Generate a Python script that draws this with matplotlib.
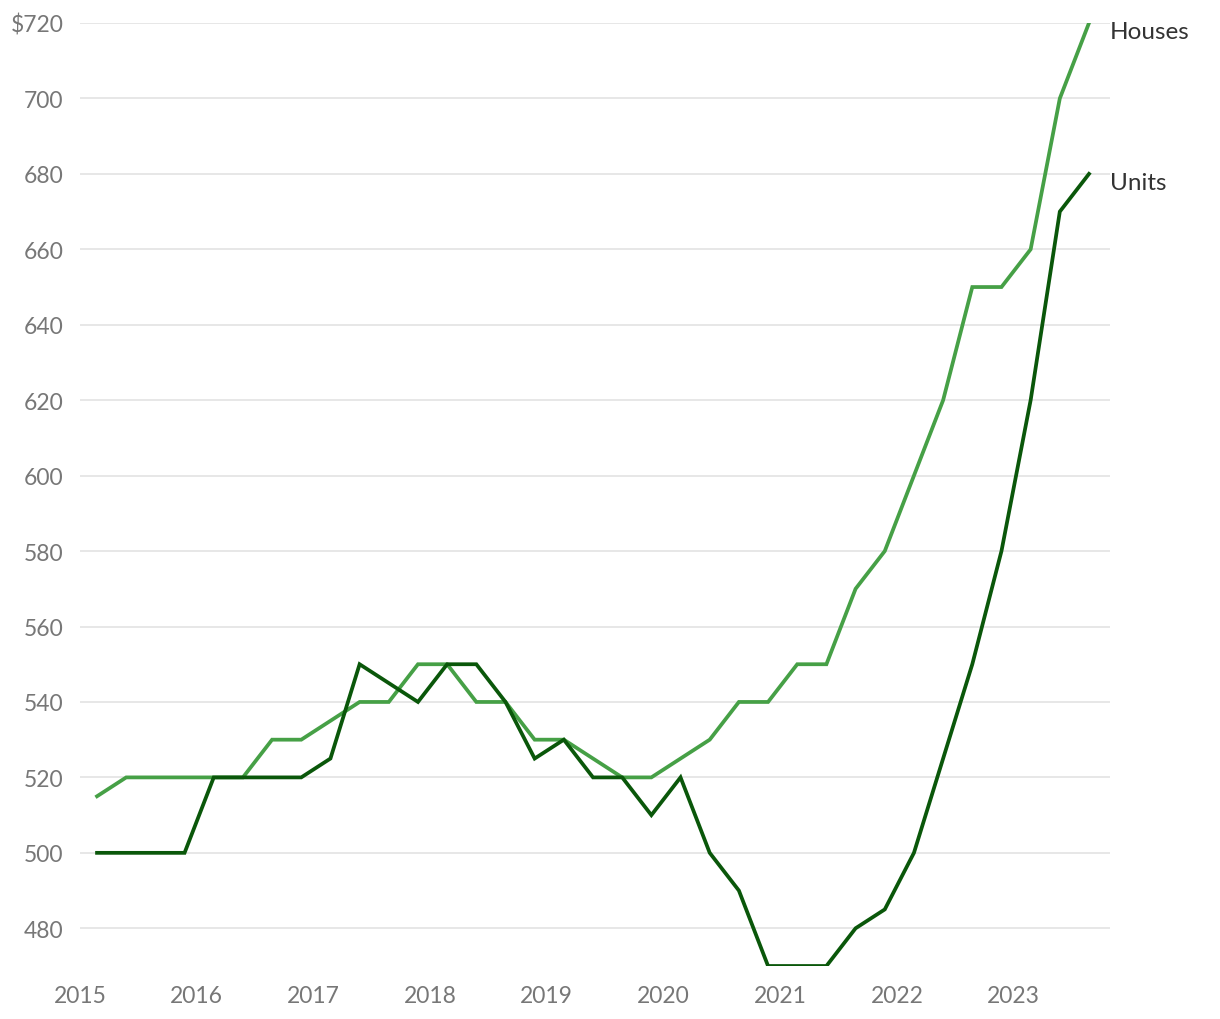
import matplotlib
matplotlib.use("Agg")
import matplotlib.pyplot as plt
import numpy as np

plt.rcParams['font.family'] = ['Lato', 'DejaVu Sans']

quarters = [f"{y}-Q{q}" for y in range(2015, 2024) for q in range(1, 5)][:35]
houses = [515, 520, 520, 520, 520, 520, 530, 530, 535, 540, 540, 550, 550, 540, 540,
          530, 530, 525, 520, 520, 525, 530, 540, 540, 550, 550, 570, 580, 600, 620,
          650, 650, 660, 700, 720]
units = [500, 500, 500, 500, 520, 520, 520, 520, 525, 550, 545, 540, 550, 550, 540,
         525, 530, 520, 520, 510, 520, 500, 490, 470, 470, 470, 480, 485, 500, 525,
         550, 580, 620, 670, 680]
year_ticks = list(range(2015, 2024))
y_ticks = list(range(480, 721, 20))

def qpos(s):
    y, q = s.split("-Q")
    return int(y) + (int(q) - 1) / 4 + 0.146

x = np.array([qpos(s) for s in quarters])

fig = plt.figure(figsize=(12.2, 10.2), dpi=100)
ax = fig.add_axes([80/1220, 53/1020, 1030/1220, 943/1020])

c_h = "#46a046"
c_u = "#0a570a"
ax.plot(x, houses, color=c_h, lw=2.7, solid_joinstyle='miter', zorder=3)
ax.plot(x, units, color=c_u, lw=2.7, solid_joinstyle='miter', zorder=4)

ax.set_xlim(2015, 2023.826)
ax.set_ylim(470, 720)
ax.set_xticks(year_ticks)
ax.set_xticklabels([str(y) for y in year_ticks])
ax.set_yticks(y_ticks)
ax.set_yticklabels([("$" if v == 720 else "") + str(v) for v in y_ticks])
ax.grid(axis='y', color="#e3e3e3", lw=1.2, zorder=0)
ax.grid(axis='x', visible=False)
for s in ax.spines.values():
    s.set_visible(False)
ax.tick_params(axis='both', length=0, labelsize=16.5, labelcolor="#777777")
ax.tick_params(axis='y', pad=12)
ax.tick_params(axis='x', pad=14)

for label, vals in (("Houses", houses), ("Units", units)):
    ax.annotate(label, xy=(x[-1], vals[-1]), xytext=(15, -6), textcoords='offset points',
                va='center', ha='left', fontsize=17.5, color="#333333", annotation_clip=False)

fig.savefig("out.png", dpi=100)
